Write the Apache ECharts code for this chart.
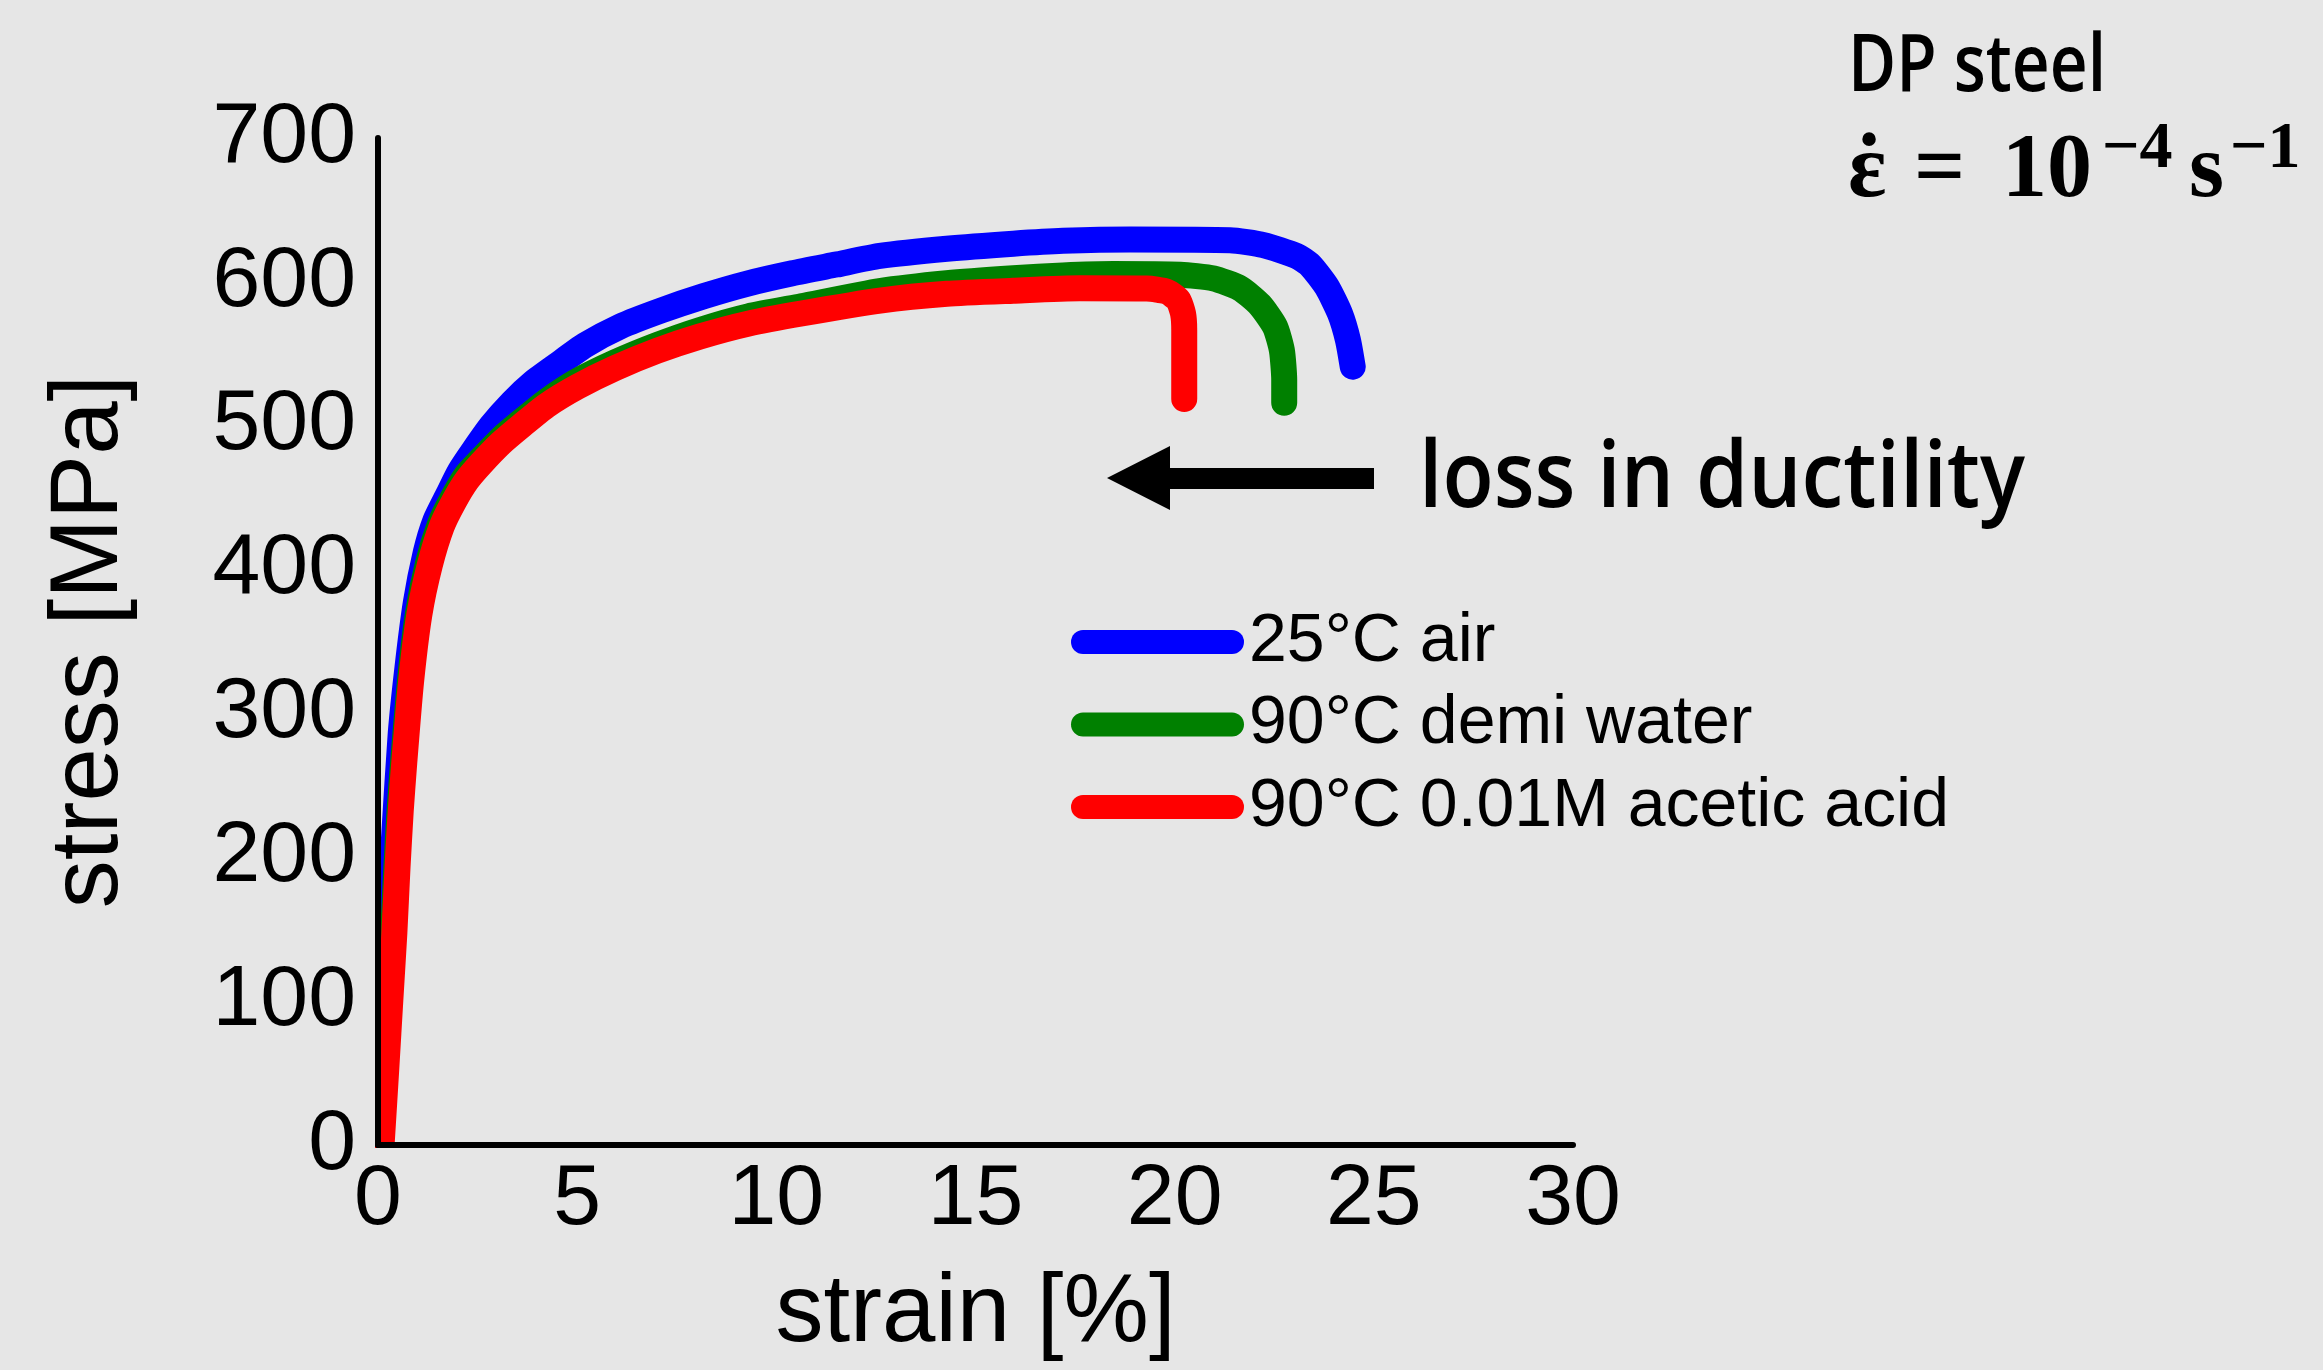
<!DOCTYPE html>
<html><head><meta charset="utf-8">
<script src="https://cdn.jsdelivr.net/npm/echarts@6/dist/echarts.min.js"></script>
<style>html,body{margin:0;padding:0;background:#e6e6e6}#c{width:2323px;height:1370px}</style>
</head><body><div id="c"></div>
<script>
// ---- data (strain %, stress MPa) ----
const seriesNames = ['25°C air', '90°C demi water', '90°C 0.01M acetic acid'];
const seriesColors = ['#0000ff', '#008000', '#ff0000'];

const strainAir = [0, 0.1, 0.2, 0.3, 0.41, 0.57, 0.74, 0.95, 1.2, 1.44, 1.76, 2.05, 2.41, 2.85, 3.36, 3.9, 4.49, 5.2, 6.08, 7.1, 8.17, 9.3, 10.4, 11.5, 12.6, 14.28, 15.95, 17.2, 18.88, 21.39, 22.23, 23.06, 23.4, 23.82, 24.15, 24.35, 24.47];
const stressAir = [30, 75, 122, 170, 217, 286, 332, 377, 412, 434, 452, 468, 483, 500, 516, 530, 542, 556, 569, 580, 590, 599, 606, 612, 618, 623, 626.5, 628.5, 629.5, 629, 625.6, 618, 611.7, 596.6, 578, 559.6, 541];

const strainWater = [0.06, 0.18, 0.28, 0.38, 0.46, 0.54, 0.63, 0.8, 1.0, 1.26, 1.56, 1.86, 2.2, 2.6, 3.09, 3.6, 4.23, 5.0, 5.95, 7.0, 8.08, 9.3, 10.63, 12.6, 14.28, 15.95, 17.2, 18.46, 20.14, 20.97, 21.64, 22.14, 22.52, 22.69, 22.75, 22.75];
const stressWater = [0, 54, 101, 147, 193, 232, 266, 322, 369, 405, 432, 449, 465, 477, 491, 503, 517, 531, 544, 556, 566.5, 576, 583, 593.5, 599, 602.5, 604.5, 605.5, 605, 602.4, 595.5, 584, 568.8, 552.6, 531.8, 516];

const strainAcid = [0.09, 0.21, 0.31, 0.41, 0.49, 0.57, 0.66, 0.83, 1.04, 1.3, 1.6, 1.9, 2.23, 2.6, 3.09, 3.6, 4.23, 5.0, 5.95, 7.0, 8.08, 9.3, 10.63, 12.6, 14.28, 15.95, 17.62, 19.3, 19.8, 20.09, 20.21, 20.24, 20.24];
const stressAcid = [0, 54, 101, 147, 193, 232, 266, 322, 369, 403, 430, 447, 462, 474, 488, 500, 514, 527, 540, 552, 562, 571, 578, 587, 591.7, 593.8, 595.5, 595.3, 593.2, 587.4, 578, 566.5, 518.6];

const xTicks = [0, 5, 10, 15, 20, 25, 30];
const yTicks = [0, 100, 200, 300, 400, 500, 600, 700];

const zip = (xs, ys) => xs.map((x, i) => [x, ys[i]]);
const curves = [zip(strainAir, stressAir), zip(strainWater, stressWater), zip(strainAcid, stressAcid)];

function fitScale(text, font, target) {
  const c = document.createElement('canvas').getContext('2d');
  c.font = font;
  return target / c.measureText(text).width;
}

const bg = '#e6e6e6';
const sans = '"Liberation Sans", Arial, sans-serif';
const lossFont = '600 92px "Open Sans"';
const dpFont = '600 80px "Open Sans"';
const serifB = 'bold 90px "Liberation Serif"';
const serifSup = 'bold 66px "Liberation Serif"';
const txt = (x, y, text, font, align) => ({type: 'text', x: x, y: y, z: 20,
  style: {text: text, font: font, fill: '#000', align: align || 'left', verticalAlign: 'middle'}});

const chart = echarts.init(document.getElementById('c'), null, {renderer: 'canvas', width: 2323, height: 1370});
chart.setOption({
  animation: false,
  backgroundColor: bg,
  grid: {left: 378, right: 750, top: 138, bottom: 225, containLabel: false},
  xAxis: {
    type: 'value', min: xTicks[0], max: xTicks[xTicks.length - 1], interval: 5, z: 10,
    name: 'strain [%]', nameLocation: 'middle', nameGap: 122,
    nameTextStyle: {fontFamily: sans, fontSize: 96, color: '#000'},
    axisLine: {show: true, onZero: false, lineStyle: {color: '#000', width: 6}},
    axisTick: {show: false}, splitLine: {show: false},
    axisLabel: {fontFamily: sans, fontSize: 86, color: '#000', margin: 12}
  },
  yAxis: {
    type: 'value', min: yTicks[0], max: yTicks[yTicks.length - 1], interval: 100, z: 10,
    name: 'stress [MPa]', nameLocation: 'middle', nameGap: 239,
    nameTextStyle: {fontFamily: sans, fontSize: 96, color: '#000'},
    axisLine: {show: true, onZero: false, lineStyle: {color: '#000', width: 6}},
    axisTick: {show: false}, splitLine: {show: false},
    axisLabel: {fontFamily: sans, fontSize: 86, color: '#000', margin: 22}
  },
  legend: {
    orient: 'vertical', left: 1066, top: 603, itemWidth: 173, itemHeight: 24, itemGap: 14.5,
    icon: 'path://M12,0 L161,0 A12,12 0 0 1 161,24 L12,24 A12,12 0 0 1 12,0 Z',
    textStyle: {fontFamily: sans, fontSize: 68, lineHeight: 68, color: '#000', padding: [0, 0, 0, 0]},
    data: seriesNames
  },
  series: curves.map((d, i) => ({
    type: 'line', name: seriesNames[i], data: d, showSymbol: false, symbol: 'none',
    color: seriesColors[i], clip: true, z: 2 + i, smooth: 0.2,
    lineStyle: {color: seriesColors[i], width: 26, cap: 'round', join: 'round'}
  })),
  graphic: [
    // strip outside the plot area, so the thick lines stop at the axes as in the reference
    {type: 'rect', z: 6, silent: true, shape: {x: 330, y: 900, width: 45, height: 270}, style: {fill: bg}},
    {type: 'rect', z: 6, silent: true, shape: {x: 330, y: 1148, width: 120, height: 20}, style: {fill: bg}},
    {type: 'polygon', z: 20, shape: {points: [[1107, 478], [1170, 446], [1170, 468], [1374, 468], [1374, 489], [1170, 489], [1170, 510]]}, style: {fill: '#000'}},
    {type: 'text', z: 20, x: 1419, y: 481, scaleX: fitScale('loss in ductility', lossFont, 606), style: {text: 'loss in ductility', font: lossFont, fill: '#000', align: 'left', verticalAlign: 'middle'}},
    {type: 'text', z: 20, x: 1848, y: 68, scaleX: fitScale('DP steel', dpFont, 258), style: {text: 'DP steel', font: dpFont, fill: '#000', align: 'left', verticalAlign: 'middle'}},
    txt(1848, 172.6, 'ε', serifB),
    txt(1869, 172.6, '\u02D9', serifB, 'center'),
    txt(1914, 172.6, '=', serifB),
    txt(2002, 172.6, '10', serifB),
    txt(2102, 149.7, '\u22124', serifSup),
    txt(2189, 172.6, 's', serifB),
    txt(2230, 149.7, '\u22121', serifSup)
  ]
});
</script></body></html>
